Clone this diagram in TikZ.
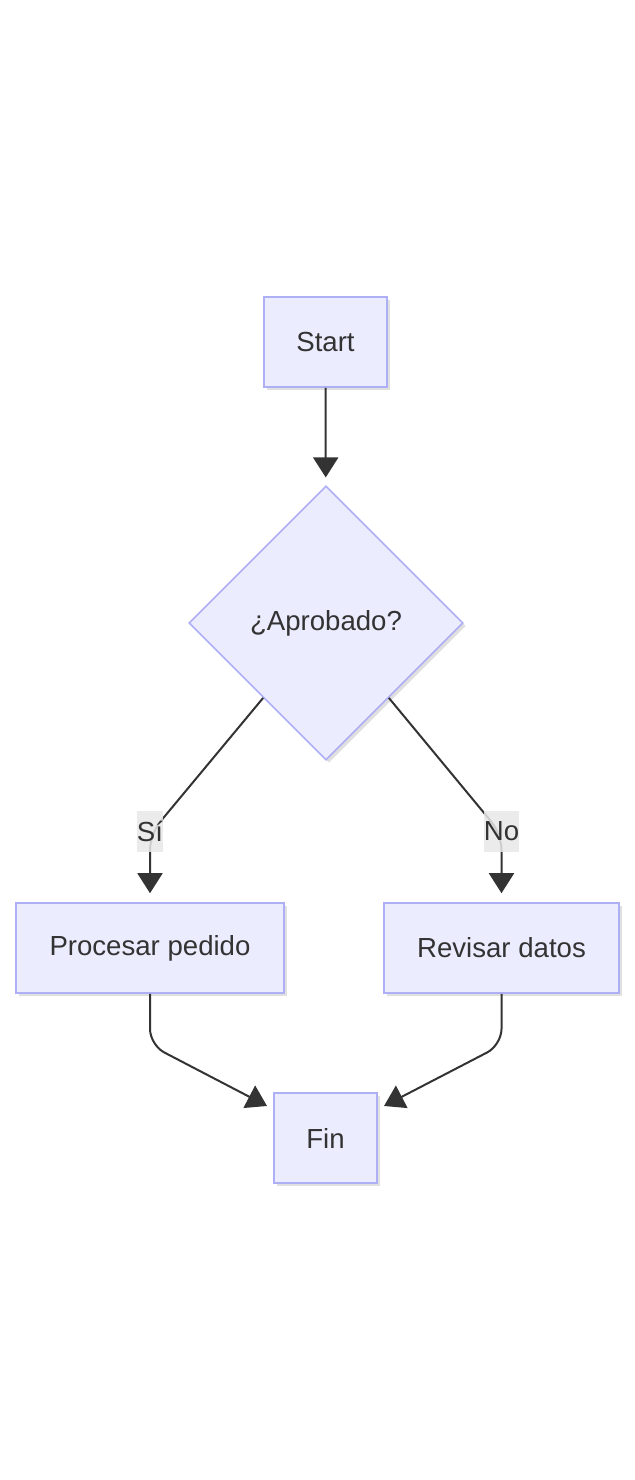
\documentclass[tikz,border=0pt]{standalone}
\usepackage{fontspec}
\setmainfont{Liberation Sans}
\usepackage{xcolor}
\usetikzlibrary{shapes.geometric,arrows.meta,shadows}
\definecolor{nodefill}{HTML}{ECECFF}
\definecolor{nodeline}{HTML}{AFAFF5}
\definecolor{inkgray}{HTML}{333333}
\definecolor{lblgray}{HTML}{E8E8E8}
\tikzset{
  boxshadow/.style={drop shadow={shadow xshift=1.5pt,shadow yshift=-1.5pt,opacity=0.12,fill=black}},
  flowbox/.style={rectangle,draw=nodeline,line width=0.8pt,fill=nodefill,boxshadow,
    minimum height=45pt,inner sep=0pt,text=inkgray,font=\fontsize{13.8}{16}\selectfont},
  flowdec/.style={diamond,draw=nodeline,line width=0.8pt,fill=nodefill,boxshadow,aspect=1,
    minimum width=137pt,minimum height=137pt,inner sep=0pt,text=inkgray,
    font=\fontsize{13.8}{16}\selectfont},
  edgelbl/.style={fill=lblgray,fill opacity=0.85,text opacity=1,text=inkgray,inner xsep=0pt,
    minimum width=12.5pt,minimum height=20.5pt,font=\fontsize{13.8}{16}\selectfont},
  flowedge/.style={draw=inkgray,line width=1pt,rounded corners=8pt,
    -{Triangle[length=10pt,width=12.5pt]},shorten >=4.5pt},
}
\begin{document}
\begin{tikzpicture}[x=0.5pt,y=-0.5pt]
    \useasboundingbox (0,0) rectangle (635,1480);
    % nodes
    \node[flowbox,minimum width=61.5pt] (start) at (325.5,342) {Start};
    \node[flowdec] (dec) at (326,623) {¿Aprobado?};
    \node[flowbox,minimum width=134pt] (proc) at (150,948) {Procesar pedido};
    \node[flowbox,minimum width=117.5pt] (rev) at (501.5,948) {Revisar datos};
    \node[flowbox,minimum width=51.5pt] (fin) at (325.5,1138) {Fin};
    % edges
    \draw[flowedge,shorten >=4pt] (start) -- (dec);
    \draw[flowedge] (dec.230) -- (150,834) -- (proc.north);
    \draw[flowedge] (dec.310) -- (501.5,834) -- (rev.north);
    \node[edgelbl] (si) at (150,831) {Sí};
    \node[edgelbl] (no) at (501.5,831) {No};
    \draw[flowedge,shorten >=3.5pt] (proc.south) -- (150,1045) -- ([yshift=-8.5pt]fin.north west);
    \draw[flowedge,shorten >=3.5pt] (rev.south) -- (501.5,1045) -- ([yshift=-8.5pt]fin.north east);
\end{tikzpicture}
\end{document}
